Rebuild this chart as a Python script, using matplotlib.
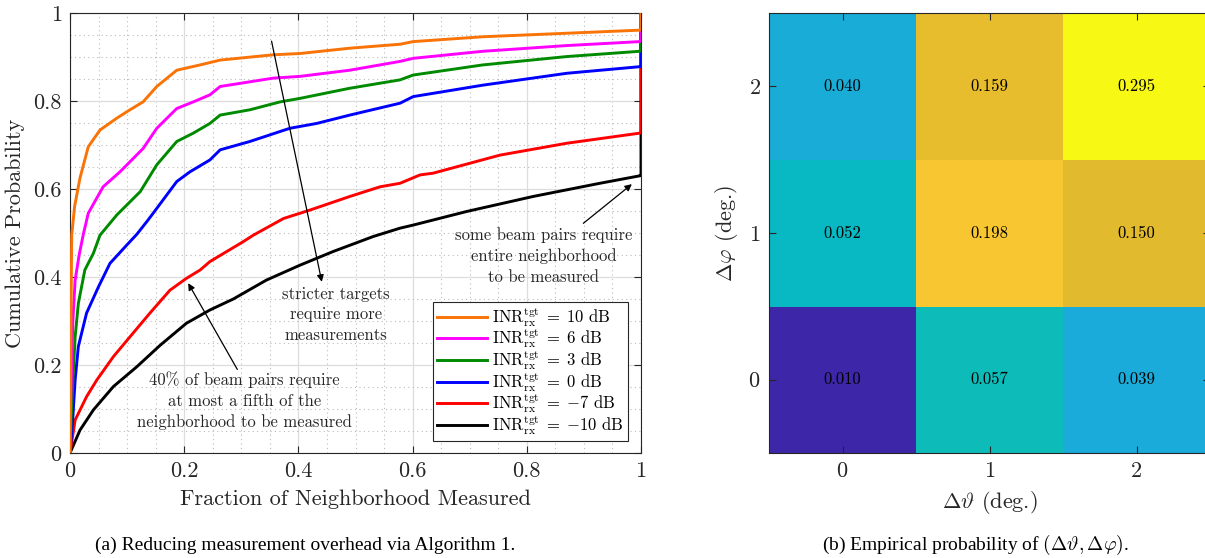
import matplotlib
matplotlib.use('Agg')
import matplotlib.pyplot as plt
from matplotlib.colors import LinearSegmentedColormap, LogNorm
from matplotlib.ticker import MultipleLocator, FuncFormatter
import numpy as np

plt.rcParams['font.family'] = ['cmr10', 'DejaVu Serif']
plt.rcParams['mathtext.fontset'] = 'cm'
plt.rcParams['axes.formatter.use_mathtext'] = True

# --- (a) CDF curves, one per INR target ---
labels = ['10', '6', '3', '0', '-7', '-10']
colors = ['#F97306', '#FF00FF', '#008A00', '#0000FF', '#FF0000', '#000000']

x_10 = [0, 0.001, 0.002, 0.003, 0.008, 0.0175, 0.032, 0.0525, 0.082, 0.105, 0.128, 0.152, 0.187,
        0.228, 0.263, 0.356, 0.403, 0.49, 0.578, 0.601, 0.723, 0.87, 0.998, 1, 1]
y_10 = [0, 0.15, 0.35, 0.495, 0.56, 0.625, 0.696, 0.734, 0.761, 0.78, 0.798, 0.833, 0.870,
        0.882, 0.893, 0.905, 0.908, 0.92, 0.929, 0.935, 0.946, 0.954, 0.961, 0.962, 1.0]

x_6 = [0, 0.001, 0.003, 0.005, 0.009, 0.016, 0.023, 0.032, 0.058, 0.0875, 0.128, 0.152, 0.187,
       0.216, 0.245, 0.263, 0.356, 0.403, 0.49, 0.578, 0.601, 0.723, 0.87, 0.998, 1, 1]
y_6 = [0, 0.1, 0.2, 0.3, 0.393, 0.45, 0.495, 0.545, 0.605, 0.639, 0.692, 0.738, 0.783,
       0.798, 0.814, 0.833, 0.852, 0.856, 0.87, 0.89, 0.897, 0.913, 0.926, 0.935, 0.936, 1.0]

x_3 = [0, 0.002, 0.006, 0.009, 0.0146, 0.026, 0.041, 0.0525, 0.082, 0.123, 0.152, 0.187, 0.216,
       0.245, 0.263, 0.315, 0.368, 0.403, 0.49, 0.578, 0.601, 0.723, 0.87, 0.998, 1, 1]
y_3 = [0, 0.08, 0.189, 0.264, 0.34, 0.416, 0.454, 0.495, 0.541, 0.594, 0.655, 0.708, 0.727,
       0.749, 0.768, 0.78, 0.798, 0.806, 0.829, 0.848, 0.859, 0.882, 0.901, 0.913, 0.914, 1.0]

x_0 = [0, 0.0047, 0.009, 0.0146, 0.029, 0.05, 0.07, 0.099, 0.117, 0.137, 0.152, 0.187, 0.21,
       0.245, 0.263, 0.315, 0.385, 0.432, 0.49, 0.578, 0.601, 0.723, 0.87, 0.998, 1, 1]
y_0 = [0, 0.075, 0.166, 0.242, 0.318, 0.378, 0.431, 0.472, 0.497, 0.53, 0.556, 0.617, 0.639,
       0.666, 0.689, 0.708, 0.738, 0.749, 0.768, 0.795, 0.81, 0.836, 0.863, 0.878, 0.879, 1.0]

x_m7 = [0, 0.009, 0.029, 0.047, 0.076, 0.105, 0.14, 0.175, 0.204, 0.228, 0.245, 0.303, 0.321,
        0.374, 0.42, 0.49, 0.543, 0.578, 0.613, 0.636, 0.753, 0.87, 0.998, 1, 1]
y_m7 = [0, 0.075, 0.128, 0.166, 0.219, 0.264, 0.318, 0.37, 0.397, 0.416, 0.435, 0.48, 0.495,
        0.533, 0.552, 0.583, 0.605, 0.613, 0.632, 0.636, 0.677, 0.704, 0.727, 0.728, 1.0]

x_m10 = [0, 0.0175, 0.041, 0.076, 0.117, 0.158, 0.204, 0.245, 0.286, 0.344, 0.403, 0.461,
         0.531, 0.578, 0.601, 0.695, 0.811, 0.928, 0.998, 1, 1]
y_m10 = [0, 0.052, 0.098, 0.151, 0.196, 0.245, 0.295, 0.325, 0.35, 0.393, 0.427, 0.458,
         0.492, 0.511, 0.518, 0.549, 0.583, 0.613, 0.630, 0.631, 1.0]

curves_x = [x_10, x_6, x_3, x_0, x_m7, x_m10]
curves_y = [y_10, y_6, y_3, y_0, y_m7, y_m10]

# --- (b) empirical probability, rows = dphi 0,1,2; cols = dtheta 0,1,2 ---
d_theta = [0, 1, 2]
d_phi = [0, 1, 2]
prob = np.array([[0.010, 0.057, 0.039],
                 [0.052, 0.198, 0.150],
                 [0.040, 0.159, 0.295]])

# parula-like colormap
parula = LinearSegmentedColormap.from_list('parula', [
    (0.0, (0.242, 0.150, 0.660)),
    (0.1, (0.280, 0.300, 0.950)),
    (0.2, (0.190, 0.470, 0.990)),
    (0.3, (0.130, 0.590, 0.900)),
    (0.4, (0.105, 0.672, 0.855)),
    (0.5, (0.020, 0.730, 0.750)),
    (0.6, (0.250, 0.770, 0.570)),
    (0.7, (0.600, 0.760, 0.320)),
    (0.8, (0.890, 0.730, 0.180)),
    (0.9, (0.990, 0.790, 0.190)),
    (1.0, (0.970, 0.975, 0.080)),
])

AX_COLOR = '#262626'

fig = plt.figure(figsize=(12.05, 5.58), dpi=100)
ax = fig.add_axes([70 / 1205, 105 / 558, 571 / 1205, 440 / 558])

handles = []
for i, (xs, ys) in enumerate(zip(curves_x, curves_y)):
    val = labels[i].replace('-', '{-}')
    lab = r'$\mathrm{INR}_{\mathrm{rx}}^{\mathrm{tgt}}\;=\;' + val + r'$ dB'
    h, = ax.plot(xs, ys, color=colors[i], lw=2.1, zorder=10 - i, label=lab)
    handles.append(h)

ax.set_xlim(0, 1)
ax.set_ylim(0, 1)
ax.xaxis.set_major_locator(MultipleLocator(0.2))
ax.yaxis.set_major_locator(MultipleLocator(0.2))
ax.xaxis.set_minor_locator(MultipleLocator(0.05))
ax.yaxis.set_minor_locator(MultipleLocator(0.05))
fmt = FuncFormatter(lambda v, p: f'{v:g}')
ax.xaxis.set_major_formatter(fmt)
ax.yaxis.set_major_formatter(fmt)
ax.grid(which='major', color='#DDDDDD', lw=0.9)
ax.grid(which='minor', color='#BBBBBB', lw=0.8, ls=(0, (1, 3)))
ax.set_axisbelow(True)
ax.tick_params(which='major', direction='in', top=True, right=True, length=5,
               labelsize=16, color=AX_COLOR, labelcolor=AX_COLOR, pad=6)
ax.tick_params(which='minor', length=0)
for s in ax.spines.values():
    s.set_color(AX_COLOR)
    s.set_linewidth(0.8)
ax.set_xlabel('Fraction of Neighborhood Measured', fontsize=16, color=AX_COLOR, labelpad=6)
ax.set_ylabel('Cumulative Probability', fontsize=16, color=AX_COLOR, labelpad=6)

leg = ax.legend(handles=handles, loc='lower right', bbox_to_anchor=(0.977, 0.027),
                borderaxespad=0, fontsize=12, fancybox=False, edgecolor=AX_COLOR,
                framealpha=1, handlelength=3.0, handletextpad=0.3, borderpad=0.25,
                labelspacing=-0.04)
leg.get_frame().set_linewidth(0.8)
leg.set_zorder(20)

arrow = dict(arrowstyle='-|>', color='black', lw=0.9, mutation_scale=10, shrinkA=0, shrinkB=0)
ax.annotate('', xy=(0.441, 0.389), xytext=(0.353, 0.936), arrowprops=arrow, zorder=15)
ax.text(0.466, 0.314, 'stricter targets\nrequire more\nmeasurements', ha='center', va='center',
        fontsize=12, linespacing=1.45, color=AX_COLOR)
ax.annotate('', xy=(0.207, 0.386), xytext=(0.293, 0.19), arrowprops=arrow, zorder=15)
ax.text(0.305, 0.119, '40% of beam pairs require\nat most a fifth of the\nneighborhood to be measured',
        ha='center', va='center', fontsize=12, linespacing=1.45, color=AX_COLOR)
ax.annotate('', xy=(0.984, 0.611), xytext=(0.899, 0.522), arrowprops=arrow, zorder=15)
ax.text(0.830, 0.448, 'some beam pairs require\nentire neighborhood\nto be measured',
        ha='center', va='center', fontsize=12, linespacing=1.45, color=AX_COLOR)

# heatmap
ax2 = fig.add_axes([769 / 1205, 105 / 558, 441 / 1205, 440 / 558])
ax2.imshow(prob, origin='lower', cmap=parula, aspect='auto',
           norm=LogNorm(vmin=prob.min(), vmax=prob.max()))
for r, ph in enumerate(d_phi):
    for c, th in enumerate(d_theta):
        ax2.text(th, ph, f'{prob[r, c]:.3f}', ha='center', va='center', fontsize=12, color='black')
ax2.set_xticks(d_theta)
ax2.set_yticks(d_phi)
ax2.tick_params(direction='in', top=True, right=True, length=5, labelsize=16,
                color=AX_COLOR, labelcolor=AX_COLOR, pad=6)
for s in ax2.spines.values():
    s.set_color(AX_COLOR)
    s.set_linewidth(0.8)
ax2.set_xlabel(r'$\Delta\vartheta$ (deg.)', fontsize=16, color=AX_COLOR, labelpad=6)
ax2.set_ylabel(r'$\Delta\varphi$ (deg.)', fontsize=16, color=AX_COLOR, labelpad=6)

fig.text(305 / 1205, 1 - 545 / 558, '(a) Reducing measurement overhead via Algorithm 1.',
         ha='center', va='center', fontsize=14, family='Liberation Serif')
fig.text(975 / 1205, 1 - 545 / 558, r'(b) Empirical probability of $(\Delta\vartheta, \Delta\varphi)$.',
         ha='center', va='center', fontsize=14, family='Liberation Serif')

fig.savefig('out.png', dpi=100, facecolor='white')
